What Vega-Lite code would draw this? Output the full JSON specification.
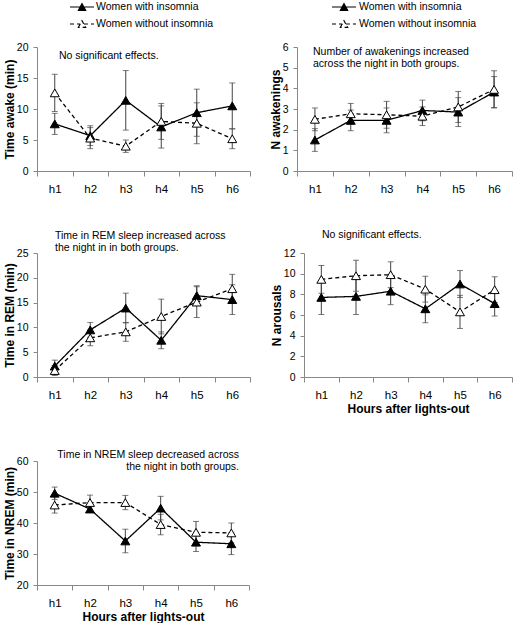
{
  "$schema": "https://vega.github.io/schema/vega-lite/v6.json",
  "padding": {"left": 3, "top": 0, "right": 0, "bottom": 0},
  "background": "white",
  "data": {"values": [
    {"m": "awake", "h": "h1", "g": "Women with insomnia", "v": 7.6, "e": 1.7},
    {"m": "awake", "h": "h2", "g": "Women with insomnia", "v": 5.7, "e": 1.6},
    {"m": "awake", "h": "h3", "g": "Women with insomnia", "v": 11.4, "e": 4.8},
    {"m": "awake", "h": "h4", "g": "Women with insomnia", "v": 7.1, "e": 3.4},
    {"m": "awake", "h": "h5", "g": "Women with insomnia", "v": 9.4, "e": 3.8},
    {"m": "awake", "h": "h6", "g": "Women with insomnia", "v": 10.5, "e": 3.7},
    {"m": "awake", "h": "h1", "g": "Women without insomnia", "v": 12.6, "e": 3.0},
    {"m": "awake", "h": "h2", "g": "Women without insomnia", "v": 5.3, "e": 1.7},
    {"m": "awake", "h": "h3", "g": "Women without insomnia", "v": 4.0, "e": 1.0},
    {"m": "awake", "h": "h4", "g": "Women without insomnia", "v": 8.0, "e": 2.9},
    {"m": "awake", "h": "h5", "g": "Women without insomnia", "v": 7.7, "e": 3.3},
    {"m": "awake", "h": "h6", "g": "Women without insomnia", "v": 5.2, "e": 1.6},
    {"m": "nawak", "h": "h1", "g": "Women with insomnia", "v": 1.5, "e": 0.55},
    {"m": "nawak", "h": "h2", "g": "Women with insomnia", "v": 2.45, "e": 0.5},
    {"m": "nawak", "h": "h3", "g": "Women with insomnia", "v": 2.45, "e": 0.6},
    {"m": "nawak", "h": "h4", "g": "Women with insomnia", "v": 2.93, "e": 0.5},
    {"m": "nawak", "h": "h5", "g": "Women with insomnia", "v": 2.85, "e": 0.7},
    {"m": "nawak", "h": "h6", "g": "Women with insomnia", "v": 3.82, "e": 0.75},
    {"m": "nawak", "h": "h1", "g": "Women without insomnia", "v": 2.5, "e": 0.55},
    {"m": "nawak", "h": "h2", "g": "Women without insomnia", "v": 2.77, "e": 0.5},
    {"m": "nawak", "h": "h3", "g": "Women without insomnia", "v": 2.72, "e": 0.65},
    {"m": "nawak", "h": "h4", "g": "Women without insomnia", "v": 2.65, "e": 0.45},
    {"m": "nawak", "h": "h5", "g": "Women without insomnia", "v": 3.1, "e": 0.75},
    {"m": "nawak", "h": "h6", "g": "Women without insomnia", "v": 3.95, "e": 0.9},
    {"m": "rem", "h": "h1", "g": "Women with insomnia", "v": 2.2, "e": 1.2},
    {"m": "rem", "h": "h2", "g": "Women with insomnia", "v": 9.5, "e": 1.5},
    {"m": "rem", "h": "h3", "g": "Women with insomnia", "v": 13.9, "e": 3.0},
    {"m": "rem", "h": "h4", "g": "Women with insomnia", "v": 7.4, "e": 1.7},
    {"m": "rem", "h": "h5", "g": "Women with insomnia", "v": 16.4, "e": 2.0},
    {"m": "rem", "h": "h6", "g": "Women with insomnia", "v": 15.6, "e": 3.0},
    {"m": "rem", "h": "h1", "g": "Women without insomnia", "v": 1.3, "e": 1.0},
    {"m": "rem", "h": "h2", "g": "Women without insomnia", "v": 7.9, "e": 1.6},
    {"m": "rem", "h": "h3", "g": "Women without insomnia", "v": 9.1, "e": 1.9},
    {"m": "rem", "h": "h4", "g": "Women without insomnia", "v": 12.2, "e": 3.5},
    {"m": "rem", "h": "h5", "g": "Women without insomnia", "v": 15.1, "e": 3.1},
    {"m": "rem", "h": "h6", "g": "Women without insomnia", "v": 17.8, "e": 2.9},
    {"m": "arous", "h": "h1", "g": "Women with insomnia", "v": 7.7, "e": 1.65},
    {"m": "arous", "h": "h2", "g": "Women with insomnia", "v": 7.8, "e": 1.75},
    {"m": "arous", "h": "h3", "g": "Women with insomnia", "v": 8.3, "e": 1.3},
    {"m": "arous", "h": "h4", "g": "Women with insomnia", "v": 6.6, "e": 1.35},
    {"m": "arous", "h": "h5", "g": "Women with insomnia", "v": 9.0, "e": 1.3},
    {"m": "arous", "h": "h6", "g": "Women with insomnia", "v": 7.1, "e": 1.2},
    {"m": "arous", "h": "h1", "g": "Women without insomnia", "v": 9.45, "e": 1.35},
    {"m": "arous", "h": "h2", "g": "Women without insomnia", "v": 9.8, "e": 1.5},
    {"m": "arous", "h": "h3", "g": "Women without insomnia", "v": 9.9, "e": 1.25},
    {"m": "arous", "h": "h4", "g": "Women without insomnia", "v": 8.5, "e": 1.25},
    {"m": "arous", "h": "h5", "g": "Women without insomnia", "v": 6.3, "e": 1.6},
    {"m": "arous", "h": "h6", "g": "Women without insomnia", "v": 8.45, "e": 1.25},
    {"m": "nrem", "h": "h1", "g": "Women with insomnia", "v": 49.6, "e": 2.0},
    {"m": "nrem", "h": "h2", "g": "Women with insomnia", "v": 44.5, "e": 1.0},
    {"m": "nrem", "h": "h3", "g": "Women with insomnia", "v": 34.2, "e": 3.8},
    {"m": "nrem", "h": "h4", "g": "Women with insomnia", "v": 44.8, "e": 3.8},
    {"m": "nrem", "h": "h5", "g": "Women with insomnia", "v": 33.8, "e": 3.0},
    {"m": "nrem", "h": "h6", "g": "Women with insomnia", "v": 33.3, "e": 3.5},
    {"m": "nrem", "h": "h1", "g": "Women without insomnia", "v": 45.8, "e": 2.6},
    {"m": "nrem", "h": "h2", "g": "Women without insomnia", "v": 46.6, "e": 2.4},
    {"m": "nrem", "h": "h3", "g": "Women without insomnia", "v": 46.6, "e": 2.3},
    {"m": "nrem", "h": "h4", "g": "Women without insomnia", "v": 39.5, "e": 3.3},
    {"m": "nrem", "h": "h5", "g": "Women without insomnia", "v": 37.0, "e": 3.5},
    {"m": "nrem", "h": "h6", "g": "Women without insomnia", "v": 36.8, "e": 3.2}
  ]},
  "spacing": 34,
  "resolve": {"scale": {"fill": "independent", "strokeDash": "independent"}, "legend": {"fill": "independent", "strokeDash": "independent"}},
  "vconcat": [
    {
      "resolve": {"scale": {"fill": "independent", "strokeDash": "independent"}, "legend": {"fill": "independent", "strokeDash": "independent"}},
      "hconcat": [
        {
          "width": 213, "height": 124,
          "title": {"text": "No significant effects.", "dx": 22, "offset": -61},
          "transform": [{"filter": "datum.m === 'awake'"}],
          "encoding": {
            "x": {"field": "h", "type": "ordinal", "scale": {"type": "band", "paddingInner": 0, "paddingOuter": 0}, "axis": {"title": null}},
            "y": {"field": "v", "type": "quantitative", "scale": {"domain": [0, 20], "nice": false, "zero": false}, "axis": {"title": "Time awake (min)", "values": [0, 5, 10, 15, 20]}}
          },
          "layer": [
            {"mark": {"type": "errorbar", "ticks": true, "size": 6, "color": "#444", "thickness": 1}, "encoding": {"yError": {"field": "e"}}},
            {"mark": {"type": "line", "color": "black", "strokeWidth": 1.3},
             "encoding": {"strokeDash": {"field": "g", "type": "nominal", "scale": {"domain": ["Women with insomnia", "Women without insomnia"], "range": [[1, 0], [4, 3]]},
               "legend": {"title": null, "orient": "none", "legendX": 38, "legendY": -47, "direction": "vertical", "padding": 0, "rowPadding": 4, "symbolSize": 144, "labelOffset": 7, "labelFontSize": 10.5, "labelFont": "Liberation Sans", "labelColor": "black",
                 "symbolType": "M-2,0H-0.32M0.32,0H2M-0.6,0.55L0,-0.55L0.6,0.55Z", "symbolStrokeColor": "black", "symbolStrokeWidth": 1.2, "symbolOpacity": 1}}}},
            {"mark": {"type": "point", "shape": "triangle-up", "size": 80, "stroke": "black", "strokeWidth": 1, "opacity": 1, "filled": true},
             "encoding": {"fill": {"field": "g", "type": "nominal", "scale": {"domain": ["Women with insomnia", "Women without insomnia"], "range": ["black", "white"]},
               "legend": {"title": null, "orient": "none", "legendX": 38, "legendY": -47, "direction": "vertical", "padding": 0, "rowPadding": 4, "symbolSize": 144, "labelOffset": 7, "labelFontSize": 10.5, "labelFont": "Liberation Sans", "labelColor": "black",
                 "symbolType": "M-2,0H-0.32M0.32,0H2M-0.6,0.55L0,-0.55L0.6,0.55Z", "symbolStrokeColor": "black", "symbolStrokeWidth": 1.2, "symbolOpacity": 1}}}}
          ]
        },
        {
          "width": 215, "height": 124,
          "title": {"text": ["Number of awakenings increased", "across the night in both groups."], "dx": 16, "offset": -69},
          "transform": [{"filter": "datum.m === 'nawak'"}],
          "encoding": {
            "x": {"field": "h", "type": "ordinal", "scale": {"type": "band", "paddingInner": 0, "paddingOuter": 0}, "axis": {"title": null}},
            "y": {"field": "v", "type": "quantitative", "scale": {"domain": [0, 6], "nice": false, "zero": false}, "axis": {"title": "N awakenings", "values": [0, 1, 2, 3, 4, 5, 6]}}
          },
          "layer": [
            {"mark": {"type": "errorbar", "ticks": true, "size": 6, "color": "#444", "thickness": 1}, "encoding": {"yError": {"field": "e"}}},
            {"mark": {"type": "line", "color": "black", "strokeWidth": 1.3},
             "encoding": {"strokeDash": {"field": "g", "type": "nominal", "scale": {"domain": ["Women with insomnia", "Women without insomnia"], "range": [[1, 0], [4, 3]]},
               "legend": {"title": null, "orient": "none", "legendX": 40, "legendY": -47, "direction": "vertical", "padding": 0, "rowPadding": 4, "symbolSize": 144, "labelOffset": 8, "labelFontSize": 10.5, "labelFont": "Liberation Sans", "labelColor": "black",
                 "symbolType": "M-2,0H-0.32M0.32,0H2M-0.6,0.55L0,-0.55L0.6,0.55Z", "symbolStrokeColor": "black", "symbolStrokeWidth": 1.2, "symbolOpacity": 1}}}},
            {"mark": {"type": "point", "shape": "triangle-up", "size": 80, "stroke": "black", "strokeWidth": 1, "opacity": 1, "filled": true},
             "encoding": {"fill": {"field": "g", "type": "nominal", "scale": {"domain": ["Women with insomnia", "Women without insomnia"], "range": ["black", "white"]},
               "legend": {"title": null, "orient": "none", "legendX": 40, "legendY": -47, "direction": "vertical", "padding": 0, "rowPadding": 4, "symbolSize": 144, "labelOffset": 8, "labelFontSize": 10.5, "labelFont": "Liberation Sans", "labelColor": "black",
                 "symbolType": "M-2,0H-0.32M0.32,0H2M-0.6,0.55L0,-0.55L0.6,0.55Z", "symbolStrokeColor": "black", "symbolStrokeWidth": 1.2, "symbolOpacity": 1}}}}
          ]
        }
      ],
      "spacing": 47, "bounds": "flush"
    },
    {
      "resolve": {"scale": {"fill": "independent", "strokeDash": "independent"}, "legend": {"fill": "independent", "strokeDash": "independent"}},
      "hconcat": [
        {
          "width": 213, "height": 124,
          "title": {"text": ["Time in REM sleep  increased across", "the night in in both groups."], "dx": 18, "offset": -5},
          "transform": [{"filter": "datum.m === 'rem'"}],
          "encoding": {
            "x": {"field": "h", "type": "ordinal", "scale": {"type": "band", "paddingInner": 0, "paddingOuter": 0}, "axis": {"title": null}},
            "y": {"field": "v", "type": "quantitative", "scale": {"domain": [0, 25], "nice": false, "zero": false}, "axis": {"title": "Time in REM (min)", "values": [0, 5, 10, 15, 20, 25]}}
          },
          "layer": [
            {"mark": {"type": "errorbar", "ticks": true, "size": 6, "color": "#444", "thickness": 1}, "encoding": {"yError": {"field": "e"}}},
            {"mark": {"type": "line", "color": "black", "strokeWidth": 1.3}, "encoding": {"strokeDash": {"field": "g", "type": "nominal", "scale": {"domain": ["Women with insomnia", "Women without insomnia"], "range": [[1, 0], [4, 3]]}, "legend": null}}},
            {"mark": {"type": "point", "shape": "triangle-up", "size": 80, "stroke": "black", "strokeWidth": 1, "opacity": 1, "filled": true},
             "encoding": {"fill": {"field": "g", "type": "nominal", "scale": {"domain": ["Women with insomnia", "Women without insomnia"], "range": ["black", "white"]}, "legend": null}}}
          ]
        },
        {
          "width": 208, "height": 124,
          "title": {"text": "No significant effects.", "dx": 18, "offset": 8},
          "transform": [{"filter": "datum.m === 'arous'"}],
          "encoding": {
            "x": {"field": "h", "type": "ordinal", "scale": {"type": "band", "paddingInner": 0, "paddingOuter": 0}, "axis": {"title": "Hours after lights-out"}},
            "y": {"field": "v", "type": "quantitative", "scale": {"domain": [0, 12], "nice": false, "zero": false}, "axis": {"title": "N arousals", "values": [0, 2, 4, 6, 8, 10, 12]}}
          },
          "layer": [
            {"mark": {"type": "errorbar", "ticks": true, "size": 6, "color": "#444", "thickness": 1}, "encoding": {"yError": {"field": "e"}}},
            {"mark": {"type": "line", "color": "black", "strokeWidth": 1.3}, "encoding": {"strokeDash": {"field": "g", "type": "nominal", "scale": {"domain": ["Women with insomnia", "Women without insomnia"], "range": [[1, 0], [4, 3]]}, "legend": null}}},
            {"mark": {"type": "point", "shape": "triangle-up", "size": 80, "stroke": "black", "strokeWidth": 1, "opacity": 1, "filled": true},
             "encoding": {"fill": {"field": "g", "type": "nominal", "scale": {"domain": ["Women with insomnia", "Women without insomnia"], "range": ["black", "white"]}, "legend": null}}}
          ]
        }
      ],
      "spacing": 54, "bounds": "flush"
    },
    {
      "width": 212, "height": 124,
      "title": {"text": ["Time in NREM sleep decreased across", "the night in both groups."], "anchor": "end", "align": "right", "dx": -10, "offset": -16},
      "transform": [{"filter": "datum.m === 'nrem'"}],
      "encoding": {
        "x": {"field": "h", "type": "ordinal", "scale": {"type": "band", "paddingInner": 0, "paddingOuter": 0}, "axis": {"title": "Hours after lights-out"}},
        "y": {"field": "v", "type": "quantitative", "scale": {"domain": [20, 60], "nice": false, "zero": false}, "axis": {"title": "Time in NREM (min)", "values": [20, 30, 40, 50, 60]}}
      },
      "layer": [
        {"mark": {"type": "errorbar", "ticks": true, "size": 6, "color": "#444", "thickness": 1}, "encoding": {"yError": {"field": "e"}}},
        {"mark": {"type": "line", "color": "black", "strokeWidth": 1.3}, "encoding": {"strokeDash": {"field": "g", "type": "nominal", "scale": {"domain": ["Women with insomnia", "Women without insomnia"], "range": [[1, 0], [4, 3]]}, "legend": null}}},
        {"mark": {"type": "point", "shape": "triangle-up", "size": 80, "stroke": "black", "strokeWidth": 1, "opacity": 1, "filled": true},
         "encoding": {"fill": {"field": "g", "type": "nominal", "scale": {"domain": ["Women with insomnia", "Women without insomnia"], "range": ["black", "white"]}, "legend": null}}}
      ]
    }
  ],
  "config": {
    "view": {"stroke": null},
    "font": "Liberation Sans",
    "title": {"fontSize": 10.5, "fontWeight": "normal", "font": "Liberation Sans", "anchor": "start", "frame": "group", "color": "black", "lineHeight": 12},
    "axis": {"grid": false, "domainColor": "#888", "tickColor": "#888", "labelColor": "black", "titleColor": "black", "labelFont": "Liberation Sans", "titleFont": "Liberation Sans", "titleFontSize": 12, "titleFontWeight": "bold"},
    "axisX": {"labelAngle": 0, "tickBand": "extent", "tickSize": 5, "labelPadding": 7, "labelFontSize": 11.5, "titlePadding": 3},
    "axisY": {"tickSize": 4, "labelPadding": 5, "labelFontSize": 10.5, "titlePadding": 0}
  }
}
